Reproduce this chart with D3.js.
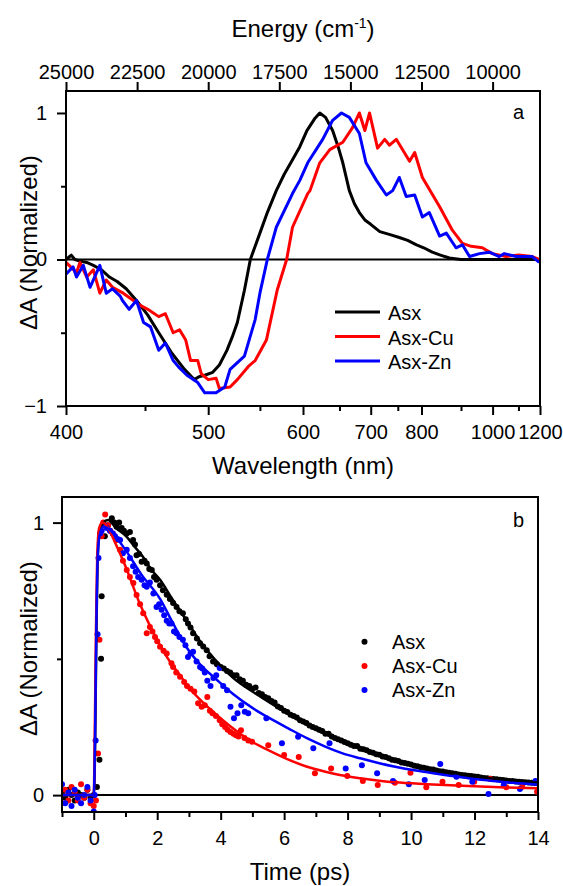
<!DOCTYPE html>
<html lang="en">
<head>
<meta charset="UTF-8">
<title>Asx transient absorption</title>
<script src="https://d3js.org/d3.v7.min.js"></script>
<style>
  body { margin: 0; background: #fff; }
  svg { display: block; font-family: "Liberation Sans", Arial, sans-serif; }
  .axis path.domain { display: none; }
  .axis line { stroke: #000; stroke-width: 2; }
  .axis text { font-size: 20px; fill: #000; font-family: "Liberation Sans", Arial, sans-serif; }
  .title { font-size: 24px; fill: #000; }
  .legend { font-size: 20px; fill: #000; }
</style>
</head>
<body>
<svg id="chart" width="563" height="886"></svg>
<script>
// ---- panel a : normalized spectra, [wavelength nm, dA] ----
const asxSpectrum = [[400,0.0],[403,0.03],[405,0.0],[408,-0.01],[412,-0.02],[416,-0.04],[421,-0.07],[426,-0.12],
  [431,-0.15],[437,-0.2],[444,-0.28],[452,-0.38],[460,-0.5],[470,-0.64],[480,-0.75],[488,-0.82],[492,-0.8],
  [497,-0.79],[504,-0.77],[510,-0.72],[517,-0.62],[522,-0.53],[527,-0.43],[534,-0.21],[540,0.0],[550,0.18],
  [558,0.32],[568,0.47],[577,0.58],[587,0.68],[596,0.77],[605,0.88],[615,0.96],[622,1.0],[630,0.97],[640,0.88],
  [648,0.77],[655,0.66],[665,0.47],[673,0.38],[681,0.32],[690,0.27],[700,0.24],[716,0.19],[735,0.17],[753,0.15],
  [770,0.13],[789,0.1],[805,0.08],[825,0.05],[845,0.03],[868,0.01],[900,0.0],[950,0.0],[1000,0.0],[1100,0.0],[1200,0.0]];
const cuSpectrum = [[400,-0.02],[406,-0.09],[408,-0.02],[412,-0.12],[416,-0.07],[420,-0.23],[424,-0.14],[428,-0.19],
  [435,-0.23],[439,-0.26],[446,-0.31],[452,-0.34],[460,-0.39],[465,-0.37],[471,-0.5],[476,-0.48],[481,-0.55],
  [485,-0.69],[491,-0.69],[494,-0.78],[500,-0.82],[507,-0.81],[510,-0.88],[520,-0.87],[527,-0.82],[538,-0.73],
  [545,-0.69],[557,-0.55],[569,-0.21],[580,0.0],[587,0.22],[606,0.45],[609,0.47],[622,0.66],[636,0.75],[655,0.8],
  [670,0.9],[681,1.0],[690,0.88],[698,1.0],[712,0.76],[725,0.82],[734,0.78],[747,0.82],[774,0.67],[785,0.73],
  [802,0.56],[843,0.36],[876,0.2],[904,0.11],[930,0.09],[965,0.08],[999,0.04],[1050,0.02],[1100,0.03],[1162,0.02],[1196,0.0]];
const znSpectrum = [[400,-0.1],[404,-0.05],[406,-0.12],[410,-0.04],[414,-0.19],[418,-0.09],[420,-0.04],[424,-0.23],
  [428,-0.2],[433,-0.25],[434.5,-0.28],[439,-0.34],[444,-0.28],[449,-0.43],[454,-0.46],[460,-0.62],[465,-0.57],
  [471,-0.69],[476,-0.74],[482,-0.79],[491,-0.84],[497,-0.91],[507,-0.91],[515,-0.87],[520,-0.75],[534,-0.66],
  [545,-0.41],[550,-0.23],[558,0.0],[568,0.22],[587,0.45],[596,0.54],[606,0.66],[626,0.82],[640,0.95],[653,1.0],
  [665,0.97],[681,0.86],[692,0.66],[710,0.54],[728,0.44],[740,0.47],[753,0.56],[767,0.43],[785,0.44],[802,0.29],
  [818,0.32],[843,0.16],[860,0.18],[886,0.08],[904,0.1],[925,0.02],[956,0.04],[989,0.05],[1024,0.02],[1043,0.04],
  [1090,0.02],[1162,0.02],[1196,-0.02]];

// ---- panel b : kinetics, [time ps, dA] ----
const asxKinetics = [[-1,0.01],[-0.9,-0.01],[-0.8,0.02],[-0.7,0.0],[-0.6,-0.02],[-0.5,0.01],[-0.4,0.0],[-0.3,-0.01],
  [-0.2,0.02],[-0.1,-0.01],[0,0.0],[0.1,0.03],[0.18,0.13],[0.23,0.5],[0.25,0.73],[0.35,0.95],[0.45,0.99],[0.57,1.016],
  [0.65,1.0],[0.72,0.985],[0.8,1.0],[0.88,0.98],[0.95,0.97],[1.04,0.96],[1.14,0.966],[1.24,0.936],[1.3,0.92],
  [1.35,0.88],[1.43,0.885],[1.51,0.856],[1.6,0.86],[1.67,0.85],[1.75,0.83],[1.83,0.826],[1.9,0.8],[1.98,0.79],
  [2.09,0.77],[2.18,0.752],[2.3,0.735],[2.4,0.72],[2.5,0.705],[2.61,0.69],[2.7,0.675],[2.81,0.667],[2.9,0.645],
  [2.97,0.63],[3.05,0.615],[3.13,0.594],[3.25,0.575],[3.35,0.557],[3.45,0.545],[3.56,0.532],[3.65,0.51],[3.76,0.49],
  [3.88,0.48],[4.0,0.47],[4.1,0.465],[4.2,0.455],[4.3,0.45],[4.4,0.44],[4.5,0.44],[4.6,0.425],[4.7,0.42],[4.8,0.405],
  [4.9,0.4],[5.0,0.39],[5.1,0.395],[5.2,0.375],[5.3,0.37],[5.4,0.36],[5.5,0.355],[5.6,0.345],[5.7,0.34],[5.8,0.325],
  [5.9,0.32],[6.0,0.31],[6.1,0.305],[6.2,0.295],[6.3,0.29],[6.4,0.285],[6.5,0.275],[6.6,0.27],[6.7,0.265],[6.8,0.255],
  [6.9,0.25],[7.0,0.245],[7.1,0.24],[7.2,0.235],[7.3,0.225],[7.4,0.225],[7.5,0.215],[7.6,0.21],[7.7,0.205],[7.8,0.2],
  [7.9,0.195],[8.0,0.19],[8.1,0.185],[8.2,0.18],[8.3,0.18],[8.4,0.17],[8.5,0.168],[8.6,0.165],[8.7,0.158],[8.8,0.155],
  [8.9,0.15],[9.0,0.148],[9.1,0.142],[9.2,0.14],[9.3,0.135],[9.4,0.13],[9.5,0.128],[9.6,0.125],[9.7,0.12],[9.8,0.118],
  [9.9,0.115],[10.0,0.112],[10.1,0.108],[10.2,0.106],[10.3,0.102],[10.4,0.1],[10.5,0.098],[10.6,0.095],[10.7,0.094],
  [10.8,0.09],[10.9,0.088],[11.0,0.087],[11.1,0.084],[11.2,0.082],[11.3,0.08],[11.4,0.078],[11.5,0.076],[11.6,0.074],
  [11.7,0.073],[11.8,0.071],[11.9,0.07],[12.0,0.068],[12.1,0.067],[12.2,0.065],[12.3,0.063],[12.4,0.062],[12.5,0.06],
  [12.6,0.059],[12.7,0.058],[12.8,0.056],[12.9,0.055],[13.0,0.054],[13.1,0.052],[13.2,0.052],[13.3,0.05],[13.4,0.049],
  [13.5,0.048],[13.6,0.047],[13.7,0.046],[13.8,0.045],[13.9,0.044],[14.0,0.043]];
const cuKinetics = [[-1,-0.03],[-0.9,0.02],[-0.8,-0.02],[-0.7,0.03],[-0.6,0.01],[-0.5,-0.02],[-0.4,0.04],[-0.3,-0.01],
  [-0.2,0.02],[-0.1,-0.03],[0,-0.04],[0.07,-0.02],[0.135,0.153],[0.18,0.57],[0.25,0.95],[0.3,1.0],[0.36,1.03],
  [0.45,0.99],[0.52,0.97],[0.6,0.96],[0.66,0.95],[0.72,0.936],[0.83,0.9],[0.92,0.86],[1.04,0.826],[1.14,0.8],
  [1.25,0.778],[1.35,0.734],[1.46,0.7],[1.56,0.667],[1.67,0.594],[1.77,0.617],[1.85,0.6],[1.93,0.58],[2.0,0.565],
  [2.09,0.544],[2.2,0.53],[2.3,0.52],[2.45,0.484],[2.5,0.47],[2.6,0.45],[2.72,0.434],[2.85,0.415],[2.94,0.4],
  [3.05,0.39],[3.17,0.38],[3.29,0.337],[3.4,0.324],[3.5,0.33],[3.58,0.36],[3.66,0.31],[3.74,0.3],[3.85,0.29],
  [3.97,0.275],[4.05,0.26],[4.14,0.25],[4.22,0.24],[4.31,0.232],[4.4,0.225],[4.48,0.22],[4.56,0.215],[4.64,0.238],
  [4.75,0.21],[4.87,0.2],[4.99,0.196],[5.5,0.183],[6.0,0.147],[6.46,0.14],[6.97,0.08],[7.48,0.098],[7.99,0.07],
  [8.48,0.052],[8.95,0.037],[9.49,0.045],[9.98,0.082],[10.48,0.029],[10.99,0.049],[11.5,0.037],[11.99,0.049],
  [12.5,0.059],[13.0,0.029],[13.5,0.031],[13.97,0.012]];
const znKinetics = [[-1,0.04],[-0.9,-0.03],[-0.8,0.01],[-0.7,-0.04],[-0.6,0.02],[-0.5,-0.01],[-0.4,-0.03],[-0.3,0.0],
  [-0.2,0.03],[-0.1,-0.02],[0,-0.06],[0.03,0.0],[0.06,0.2],[0.12,0.59],[0.15,0.87],[0.2,0.96],[0.25,0.97],[0.33,0.99],
  [0.41,0.98],[0.51,0.97],[0.6,0.96],[0.67,0.95],[0.75,0.94],[0.83,0.936],[0.92,0.888],[1.04,0.9],[1.14,0.87],
  [1.24,0.84],[1.32,0.82],[1.4,0.8],[1.51,0.79],[1.6,0.77],[1.67,0.765],[1.77,0.78],[1.88,0.74],[1.98,0.69],
  [2.06,0.7],[2.14,0.68],[2.22,0.66],[2.3,0.64],[2.38,0.63],[2.45,0.63],[2.53,0.6],[2.61,0.594],[2.7,0.58],
  [2.81,0.57],[2.89,0.55],[2.97,0.507],[3.05,0.52],[3.13,0.526],[3.24,0.49],[3.35,0.47],[3.42,0.465],[3.5,0.45],
  [3.58,0.42],[3.68,0.4],[3.77,0.43],[3.86,0.44],[3.97,0.466],[4.08,0.4],[4.2,0.385],[4.31,0.324],[4.42,0.282],
  [4.53,0.3],[4.65,0.33],[4.76,0.306],[4.87,0.3],[5.44,0.282],[5.93,0.19],[6.44,0.214],[6.92,0.172],[7.43,0.19],
  [7.94,0.098],[8.45,0.11],[8.93,0.08],[9.43,0.052],[9.93,0.04],[10.43,0.055],[10.92,0.114],[11.43,0.067],
  [11.93,0.049],[12.44,0.004],[12.92,0.037],[13.43,0.022],[13.92,0.052]];

// fitted curves
const asxFit = [[-1,0],[0,0],[0.04,0.15],[0.08,0.55],[0.12,0.85],[0.18,0.96],[0.3,1.0],[0.45,1.01],[0.7,0.98],
  [1.04,0.948],[1.3,0.91],[1.55,0.875],[1.8,0.83],[2.09,0.79],[2.5,0.715],[2.93,0.64],[3.35,0.565],[3.8,0.5],
  [4.4,0.43],[5,0.38],[5.5,0.343],[6.1,0.3],[6.6,0.265],[7.25,0.227],[7.8,0.197],[8.4,0.17],[9,0.148],[9.5,0.128],
  [10.1,0.11],[10.7,0.093],[11.3,0.082],[11.8,0.073],[12.4,0.063],[12.9,0.056],[13.5,0.05],[14,0.045]];
const cuFit = [[-1,0],[0,0],[0.03,0.2],[0.07,0.6],[0.11,0.88],[0.17,0.98],[0.28,1.0],[0.45,0.98],[0.7,0.92],
  [1.0,0.84],[1.46,0.7],[2.0,0.57],[2.4,0.49],[2.72,0.44],[3.0,0.395],[3.4,0.345],[4.07,0.275],[4.5,0.235],[5,0.195],
  [5.5,0.165],[6.1,0.132],[6.7,0.105],[7.3,0.086],[7.8,0.073],[8.4,0.062],[9,0.053],[9.5,0.047],[10.5,0.04],
  [11.8,0.033],[13,0.028],[14,0.025]];
const znFit = [[-1,0],[0,0],[0.04,0.2],[0.08,0.6],[0.12,0.86],[0.18,0.95],[0.3,0.985],[0.5,0.975],[0.75,0.94],
  [1.0,0.9],[1.5,0.81],[2.09,0.72],[2.5,0.63],[2.94,0.54],[3.35,0.48],[3.86,0.425],[4.4,0.37],[5,0.32],[5.5,0.285],
  [6.13,0.245],[6.7,0.21],[7.26,0.18],[7.8,0.155],[8.4,0.135],[9,0.117],[9.5,0.104],[10.1,0.091],[10.7,0.08],
  [11.3,0.07],[11.8,0.062],[12.5,0.053],[13.2,0.045],[14,0.038]];

// ticks and labels
const energyTicks = [25000, 22500, 20000, 17500, 15000, 12500, 10000];
const wlTicks = [400, 500, 600, 700, 800, 1000, 1200];
const wlMinor = [450, 550, 650, 750, 900, 1100];
const dATicksA = [-1, 0, 1];
const dAMinorA = [-0.5, 0.5];
const timeTicks = [0, 2, 4, 6, 8, 10, 12, 14];
const timeMinor = [-1, 1, 3, 5, 7, 9, 11, 13];
const dATicksB = [0, 1];
const dAMinorB = [0.5];
const seriesNames = ["Asx", "Asx-Cu", "Asx-Zn"];
const seriesColors = ["#000000", "#ff0000", "#0000ff"];

const svg = d3.select("#chart");

// ===== panel a =====
const boxA = { left: 66, right: 540, top: 91, bottom: 406 };
const xE = d3.scaleLinear().domain([25000, 1e7 / 1200]).range([boxA.left, boxA.right]);
const yA = d3.scaleLinear().domain([-1, 1.15]).range([boxA.bottom, boxA.top]);
const wlX = w => xE(1e7 / w);

svg.append("clipPath").attr("id", "clipA").append("rect")
    .attr("x", boxA.left).attr("y", boxA.top)
    .attr("width", boxA.right - boxA.left).attr("height", boxA.bottom - boxA.top);

// top energy axis
svg.append("g").attr("class", "axis").attr("transform", `translate(0,${boxA.top})`)
    .call(d3.axisTop(xE).tickValues(energyTicks).tickSize(9).tickPadding(3).tickFormat(d3.format("d")));

// bottom wavelength axis (positions in energy)
svg.append("g").attr("class", "axis").attr("transform", `translate(0,${boxA.bottom})`)
    .call(d3.axisBottom(xE).tickValues(wlTicks.map(w => 1e7 / w)).tickSize(9).tickPadding(10)
        .tickFormat(e => Math.round(1e7 / e)));
svg.append("g").attr("class", "axis").attr("transform", `translate(0,${boxA.bottom})`)
    .call(d3.axisBottom(xE).tickValues(wlMinor.map(w => 1e7 / w)).tickSize(5).tickFormat(""));

svg.append("g").attr("class", "axis").attr("transform", `translate(${boxA.left},0)`)
    .call(d3.axisLeft(yA).tickValues(dATicksA).tickSize(9).tickPadding(10).tickFormat(d3.format("d")));
svg.append("g").attr("class", "axis").attr("transform", `translate(${boxA.left},0)`)
    .call(d3.axisLeft(yA).tickValues(dAMinorA).tickSize(5).tickFormat(""));

const plotA = svg.append("g").attr("clip-path", "url(#clipA)");
plotA.append("line")
    .attr("x1", boxA.left).attr("x2", boxA.right)
    .attr("y1", yA(0)).attr("y2", yA(0))
    .attr("stroke", "#000").attr("stroke-width", 2);

const specLine = d3.line().x(d => wlX(d[0])).y(d => yA(d[1]));
[asxSpectrum, cuSpectrum, znSpectrum].forEach((s, i) => {
    plotA.append("path").datum(s)
        .attr("d", specLine)
        .attr("fill", "none")
        .attr("stroke", seriesColors[i])
        .attr("stroke-width", 3)
        .attr("stroke-linejoin", "round");
});

svg.append("rect")
    .attr("x", boxA.left).attr("y", boxA.top)
    .attr("width", boxA.right - boxA.left).attr("height", boxA.bottom - boxA.top)
    .attr("fill", "none").attr("stroke", "#000").attr("stroke-width", 2);

// legend a
seriesNames.forEach((name, i) => {
    const y = 312 + i * 24.5;
    svg.append("line").attr("x1", 335).attr("x2", 380).attr("y1", y).attr("y2", y)
        .attr("stroke", seriesColors[i]).attr("stroke-width", 3);
    svg.append("text").attr("class", "legend").attr("x", 388).attr("y", y + 8).text(name);
});

svg.append("text").attr("class", "legend").attr("x", 513).attr("y", 119).text("a");

const energyTitle = svg.append("text").attr("class", "title")
    .attr("x", (boxA.left + boxA.right) / 2).attr("y", 37).attr("text-anchor", "middle");
energyTitle.append("tspan").text("Energy (cm");
energyTitle.append("tspan").attr("font-size", "14px").attr("dy", -9).text("-1");
energyTitle.append("tspan").attr("dy", 9).text(")");

svg.append("text").attr("class", "title")
    .attr("x", (boxA.left + boxA.right) / 2).attr("y", 474).attr("text-anchor", "middle")
    .text("Wavelength (nm)");

svg.append("text").attr("class", "title")
    .attr("transform", `translate(37,${(boxA.top + boxA.bottom) / 2 - 6}) rotate(-90)`)
    .attr("text-anchor", "middle").text("\u0394A (Normalized)");

// ===== panel b =====
const boxB = { left: 62, right: 538, top: 497, bottom: 812 };
const xT = d3.scaleLinear().domain([-1, 14]).range([boxB.left, boxB.right]);
const yB = d3.scaleLinear().domain([-0.062, 1.094]).range([boxB.bottom, boxB.top]);

svg.append("clipPath").attr("id", "clipB").append("rect")
    .attr("x", boxB.left).attr("y", boxB.top)
    .attr("width", boxB.right - boxB.left).attr("height", boxB.bottom - boxB.top);

svg.append("g").attr("class", "axis").attr("transform", `translate(0,${boxB.bottom})`)
    .call(d3.axisBottom(xT).tickValues(timeTicks).tickSize(8).tickPadding(11).tickFormat(d3.format("d")));
svg.append("g").attr("class", "axis").attr("transform", `translate(0,${boxB.bottom})`)
    .call(d3.axisBottom(xT).tickValues(timeMinor).tickSize(5).tickFormat(""));
svg.append("g").attr("class", "axis").attr("transform", `translate(${boxB.left},0)`)
    .call(d3.axisLeft(yB).tickValues(dATicksB).tickSize(9).tickPadding(9).tickFormat(d3.format("d")));
svg.append("g").attr("class", "axis").attr("transform", `translate(${boxB.left},0)`)
    .call(d3.axisLeft(yB).tickValues(dAMinorB).tickSize(5).tickFormat(""));

const plotB = svg.append("g").attr("clip-path", "url(#clipB)");
plotB.append("line")
    .attr("x1", boxB.left).attr("x2", boxB.right)
    .attr("y1", yB(0)).attr("y2", yB(0))
    .attr("stroke", "#000").attr("stroke-width", 2);

[asxKinetics, cuKinetics, znKinetics].forEach((s, i) => {
    plotB.append("g").selectAll("circle").data(s).join("circle")
        .attr("cx", d => xT(d[0])).attr("cy", d => yB(d[1])).attr("r", 3)
        .attr("fill", seriesColors[i]);
});

const fitLine = d3.line().x(d => xT(d[0])).y(d => yB(d[1])).curve(d3.curveMonotoneX);
[asxFit, cuFit, znFit].forEach((s, i) => {
    plotB.append("path").datum(s)
        .attr("d", fitLine)
        .attr("fill", "none")
        .attr("stroke", seriesColors[i])
        .attr("stroke-width", 2.5);
});

svg.append("rect")
    .attr("x", boxB.left).attr("y", boxB.top)
    .attr("width", boxB.right - boxB.left).attr("height", boxB.bottom - boxB.top)
    .attr("fill", "none").attr("stroke", "#000").attr("stroke-width", 2);

// legend b
seriesNames.forEach((name, i) => {
    const y = 641.7 + i * 24.2;
    svg.append("circle").attr("cx", 364.5).attr("cy", y).attr("r", 3).attr("fill", seriesColors[i]);
    svg.append("text").attr("class", "legend").attr("x", 392).attr("y", y + 7).text(name);
});

svg.append("text").attr("class", "legend").attr("x", 513).attr("y", 527).text("b");

svg.append("text").attr("class", "title")
    .attr("x", (boxB.left + boxB.right) / 2).attr("y", 880).attr("text-anchor", "middle")
    .text("Time (ps)");

svg.append("text").attr("class", "title")
    .attr("transform", `translate(37,${(boxB.top + boxB.bottom) / 2 - 6}) rotate(-90)`)
    .attr("text-anchor", "middle").text("\u0394A (Normalized)");
</script>
</body>
</html>
